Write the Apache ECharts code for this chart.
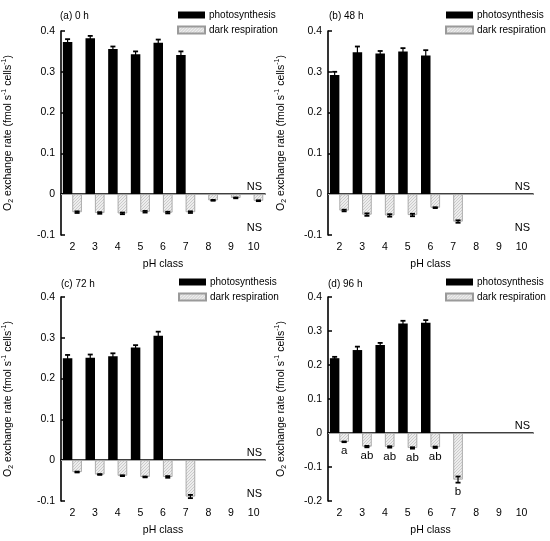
<!DOCTYPE html>
<html><head><meta charset="utf-8">
<script src="https://cdn.jsdelivr.net/npm/echarts@6/dist/echarts.min.js"></script>
<style>html,body{margin:0;padding:0;background:#fff}#c{width:550px;height:541px}</style>
</head><body><div id="c"></div>
<script>
// ---------- data ----------
const categories = ['2','3','4','5','6','7','8','9','10'];

const photoA    = [0.373, 0.382, 0.356, 0.343, 0.371, 0.341, null, null, null];
const photoAErr = [0.007, 0.006, 0.006, 0.007, 0.008, 0.009, null, null, null];
const respA     = [-0.044, -0.046, -0.047, -0.043, -0.045, -0.044, -0.015, -0.009, -0.016];
const respAErr  = [0.002, 0.002, 0.002, 0.002, 0.002, 0.002, 0.001, 0.001, 0.001];

const photoB    = [0.292, 0.348, 0.345, 0.350, 0.340, null, null, null, null];
const photoBErr = [0.008, 0.014, 0.006, 0.008, 0.013, null, null, null, null];
const respB     = [-0.040, -0.050, -0.052, -0.051, -0.033, -0.067, null, null, null];
const respBErr  = [0.002, 0.003, 0.003, 0.003, 0.001, 0.003, null, null, null];

const photoC    = [0.250, 0.251, 0.255, 0.276, 0.305, null, null, null, null];
const photoCErr = [0.008, 0.008, 0.007, 0.006, 0.010, null, null, null, null];
const respC     = [-0.029, -0.035, -0.038, -0.041, -0.041, -0.089, null, null, null];
const respCErr  = [0.001, 0.001, 0.001, 0.001, 0.002, 0.004, null, null, null];

const photoD    = [0.220, 0.244, 0.259, 0.322, 0.324, null, null, null, null];
const photoDErr = [0.004, 0.010, 0.006, 0.008, 0.008, null, null, null, null];
const respD     = [-0.026, -0.040, -0.041, -0.044, -0.042, -0.137, null, null, null];
const respDErr  = [0.001, 0.002, 0.002, 0.002, 0.002, 0.009, null, null, null];
const lettersD  = ['a', 'ab', 'ab', 'ab', 'ab', 'b', '', '', ''];

const nsA = [0, -0.1];
const nsB = [0, -0.1];
const nsC = [0, -0.1];
const nsD = [0];

const yMinA = -0.1, yMinB = -0.1, yMinC = -0.1, yMinD = -0.2;
const yMax = 0.4, yStep = 0.1;

// ---------- layout / style ----------
const BAR_W = 9.5;
const panels = [
  {title:'(a) 0 h',  photo:photoA, pErr:photoAErr, resp:respA, rErr:respAErr, letters:null, ns:nsA, ymin:yMinA,
   grid:{left:61, top:31, width:204, height:204}, nameGap:46, titlePos:[60,11], legendPos:[177,9]},
  {title:'(b) 48 h', photo:photoB, pErr:photoBErr, resp:respB, rErr:respBErr, letters:null, ns:nsB, ymin:yMinB,
   grid:{left:328, top:31, width:205, height:204}, nameGap:40, titlePos:[329,11], legendPos:[445,9]},
  {title:'(c) 72 h', photo:photoC, pErr:photoCErr, resp:respC, rErr:respCErr, letters:null, ns:nsC, ymin:yMinC,
   grid:{left:61, top:297, width:204, height:204}, nameGap:46, titlePos:[61,279], legendPos:[178,276]},
  {title:'(d) 96 h', photo:photoD, pErr:photoDErr, resp:respD, rErr:respDErr, letters:lettersD, ns:nsD, ymin:yMinD,
   grid:{left:328, top:297, width:205, height:204}, nameGap:40, titlePos:[328,279], legendPos:[445,276]}
];

function makeHatch(){
  const c = document.createElement('canvas');
  c.width = 3; c.height = 3;
  const g = c.getContext('2d');
  g.fillStyle = '#ededed'; g.fillRect(0,0,3,3);
  g.strokeStyle = '#c2c2c2'; g.lineWidth = 0.8;
  g.beginPath();
  g.moveTo(-1,4); g.lineTo(4,-1);
  g.moveTo(-1,1); g.lineTo(1,-1);
  g.moveTo(2,4); g.lineTo(4,2);
  g.stroke();
  return c;
}
const hatch = {image: makeHatch(), repeat: 'repeat'};

function errRender(offsetSign, letters){
  return function(params, api){
    const idx = api.value(0), v = api.value(1), e = api.value(2);
    if (isNaN(v) || isNaN(e)) return null;
    const x = api.coord([idx, v])[0] + offsetSign * BAR_W/2;
    const yHi = api.coord([idx, v + e])[1];
    const yLo = api.coord([idx, v - e])[1];
    const children = [
      {type:'line', shape:{x1:x, y1:yHi, x2:x, y2:yLo}, style:{stroke:'#000', lineWidth:1.2}},
      {type:'line', shape:{x1:x-2.5, y1:yHi, x2:x+2.5, y2:yHi}, style:{stroke:'#000', lineWidth:1.8}},
      {type:'line', shape:{x1:x-2.5, y1:yLo, x2:x+2.5, y2:yLo}, style:{stroke:'#000', lineWidth:1.8}}
    ];
    if (letters && letters[params.dataIndex]) {
      children.push({type:'text', style:{text:letters[params.dataIndex], x:x, y:yLo+3,
        align:'center', verticalAlign:'top', fontSize:11.5, fontFamily:'Liberation Sans, Arial, sans-serif', fill:'#000'}});
    }
    return {type:'group', children};
  };
}
function nsRender(params, api){
  const idx = api.value(0), v = api.value(1);
  const p = api.coord([idx, v]);
  const band = api.size([1,0])[0];
  return {type:'text', style:{text:'NS', x:p[0] + band/2 - 3, y:p[1] - 2, align:'right', verticalAlign:'bottom',
    fontSize:11, fontFamily:'Liberation Sans, Arial, sans-serif', fill:'#000'}};
}

const font = 'Liberation Sans, Arial, sans-serif';
const option = {
  animation:false,
  backgroundColor:'#fff',
  textStyle:{fontFamily:font},
  title:[], legend:[], grid:[], xAxis:[], yAxis:[], series:[]
};

panels.forEach((p, i) => {
  option.title.push({text:p.title, left:p.titlePos[0], top:p.titlePos[1], padding:0,
    textStyle:{fontSize:10, fontWeight:'normal', color:'#000', fontFamily:font}});
  option.legend.push({orient:'vertical', left:p.legendPos[0], top:p.legendPos[1], padding:0,
    itemWidth:27, itemHeight:7, itemGap:3, icon:'rect',
    textStyle:{fontSize:10, color:'#000', fontFamily:font, lineHeight:12, padding:[0,0,0,-1]},
    data:['photosynthesis','dark respiration']});
  option.grid.push(Object.assign({containLabel:false}, p.grid));
  option.xAxis.push({type:'category', gridIndex:i, data:categories,
    name:'pH class', nameLocation:'middle', nameGap:24,
    nameTextStyle:{fontSize:10.5, color:'#000', fontFamily:font},
    axisLine:{lineStyle:{color:'#000', width:1.6}},
    axisTick:{inside:true, length:5, lineStyle:{color:'#000', width:1.5}},
    axisLabel:{fontSize:10.5, color:'#000', margin:7, fontFamily:font},
    splitLine:{show:false}});
  option.yAxis.push({type:'value', gridIndex:i, min:p.ymin, max:yMax, interval:yStep,
    name:'O{sub|2} exchange rate (fmol s{sup|-1} cells{sup|-1})', nameLocation:'middle', nameGap:p.nameGap,
    nameTextStyle:{fontSize:10.5, color:'#000', fontFamily:font, lineHeight:14,
      rich:{sub:{fontSize:7, lineHeight:7, verticalAlign:'bottom', color:'#000', fontFamily:font},
            sup:{fontSize:7, lineHeight:7, verticalAlign:'top', color:'#000', fontFamily:font}}},
    axisLine:{show:true, onZero:false, lineStyle:{color:'#000', width:1.6}},
    axisTick:{show:true, inside:true, length:4, lineStyle:{color:'#000', width:1.5}},
    axisLabel:{fontSize:10.5, color:'#000', margin:6, fontFamily:font,
      formatter:v => String(+v.toFixed(1))},
    splitLine:{show:false}});
  option.series.push({name:'photosynthesis', type:'bar', xAxisIndex:i, yAxisIndex:i, data:p.photo,
    barWidth:BAR_W, barGap:'0%', itemStyle:{color:'#000'},
    markLine:{silent:true, symbol:'none', label:{show:false}, lineStyle:{color:'#a8a8a8', width:1, type:'solid'},
      data:[{yAxis:0}]}});
  option.series.push({name:'dark respiration', type:'bar', xAxisIndex:i, yAxisIndex:i, data:p.resp,
    barWidth:BAR_W, barGap:'0%', itemStyle:{color:hatch, borderColor:'#9a9a9a', borderWidth:0.8}});
  option.series.push({type:'custom', xAxisIndex:i, yAxisIndex:i, renderItem:errRender(-1, null), z:5,
    data:p.photo.map((v,k) => v == null ? [k, NaN, NaN] : [k, v, p.pErr[k]])});
  option.series.push({type:'custom', xAxisIndex:i, yAxisIndex:i, renderItem:errRender(1, p.letters), z:5,
    data:p.resp.map((v,k) => v == null ? [k, NaN, NaN] : [k, v, p.rErr[k]])});
  option.series.push({type:'custom', xAxisIndex:i, yAxisIndex:i, renderItem:nsRender, z:6, clip:false,
    data:p.ns.map(v => [categories.length-1, v])});
});

const chart = echarts.init(document.getElementById('c'), null, {renderer:'canvas'});
chart.setOption(option);
</script></body></html>
